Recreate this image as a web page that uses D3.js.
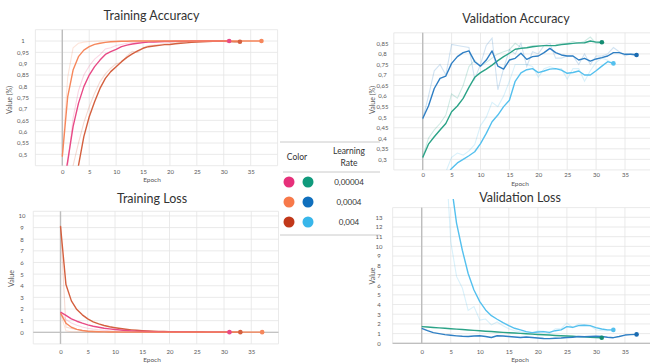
<!DOCTYPE html>
<html>
<head>
<meta charset="utf-8">
<script src="https://cdn.jsdelivr.net/npm/d3@7"></script>
<style>
html,body{margin:0;padding:0;background:#fff;}
svg{display:block;font-family:Lato,"Open Sans",sans-serif;}
</style>
</head>
<body>
<svg id="chart" width="650" height="363"></svg>
<script>
// ---- data (index = epoch) ----
const epochTicks=[0,5,10,15,20,25,30,35];
const trainAccTicks=[0.5,0.55,0.6,0.65,0.7,0.75,0.8,0.85,0.9,0.95,1];
const valAccTicks=[0.3,0.35,0.4,0.45,0.5,0.55,0.6,0.65,0.7,0.75,0.8,0.85];
const trainLossTicks=[0,1,2,3,4,5,6,7,8,9,10];
const valLossTicks=[0,1,2,3,4,5,6,7,8,9,10,11,12,13];

const rates=["0,00004","0,0004","0,004"];

// training accuracy (smoothed + raw)
const accPink=[0.33,0.47,0.622,0.725,0.799,0.85,0.887,0.916,0.941,0.953,0.963,0.975,0.982,0.987,0.99,0.993,0.995,0.996,0.997,0.998,0.998,0.999,0.999,0.999,1,1,1,1,1,1,1,1];
const accOrange=[0.49,0.754,0.872,0.931,0.96,0.975,0.985,0.99,0.994,0.997,0.998,0.999,0.999,1,1,1,1,1,1,1,1,1,1,1,1,1,1,1,1,1,1,1,1,1,1,1,1,1];
const accRed=[0.2,0.3,0.38,0.45,0.578,0.666,0.732,0.791,0.835,0.865,0.887,0.909,0.928,0.943,0.957,0.968,0.975,0.978,0.981,0.984,0.985,0.988,0.99,0.992,0.994,0.996,0.997,0.998,0.999,0.999,0.999,0.998,0.997,0.997];
const rawAccPink=[0.3,0.45,0.66,0.78,0.85,0.89,0.92,0.94,0.965,0.97,0.98,0.985,0.99,0.993,0.995,0.997,0.998,0.999,1,1,1,1,1,1,1,1,1,1,1,1,1,1];
const rawAccOrange=[0.49,0.84,0.97,0.99,0.995,0.998,0.999,1,1,1,1,1,1,1,1,1,1,1,1,1,1,1,1,1,1,1,1,1,1,1,1,1,1,1,1,1,1,1];
const rawAccRed=[0.25,0.35,0.45,0.55,0.64,0.71,0.77,0.82,0.855,0.88,0.9,0.905,0.935,0.955,0.95,0.97,0.98,0.982,0.985,0.988,0.99,0.992,0.994,0.996,0.997,0.998,0.999,1,1,1,0.999,0.998,0.997,0.997];

// validation accuracy
const valTeal=[0.309,0.372,0.407,0.439,0.47,0.526,0.553,0.589,0.641,0.689,0.711,0.728,0.747,0.768,0.787,0.803,0.822,0.826,0.829,0.834,0.837,0.839,0.839,0.84,0.844,0.847,0.85,0.852,0.853,0.861,0.856,0.855];
const valBlue=[0.494,0.553,0.636,0.684,0.695,0.755,0.787,0.806,0.814,0.763,0.742,0.771,0.814,0.742,0.728,0.771,0.779,0.803,0.774,0.787,0.79,0.806,0.826,0.806,0.795,0.79,0.79,0.771,0.779,0.766,0.776,0.782,0.79,0.806,0.806,0.798,0.798,0.795];
const valLight=[0.1,0.13,0.16,0.19,0.22,0.257,0.283,0.3,0.317,0.336,0.375,0.423,0.478,0.51,0.55,0.58,0.67,0.71,0.725,0.73,0.711,0.719,0.728,0.73,0.723,0.708,0.712,0.719,0.7,0.7,0.72,0.742,0.763,0.755];
const rawValTeal=[0.31,0.4,0.44,0.47,0.51,0.61,0.59,0.65,0.74,0.77,0.74,0.76,0.78,0.8,0.81,0.82,0.85,0.83,0.83,0.84,0.84,0.84,0.84,0.84,0.85,0.85,0.86,0.85,0.86,0.88,0.85,0.85];
const rawValBlue=[0.49,0.6,0.72,0.75,0.7,0.845,0.84,0.835,0.83,0.68,0.75,0.84,0.875,0.63,0.73,0.82,0.8,0.85,0.74,0.81,0.8,0.84,0.85,0.78,0.78,0.79,0.79,0.75,0.8,0.75,0.79,0.79,0.8,0.83,0.81,0.79,0.8,0.8];
const rawValLight=[0.12,0.15,0.18,0.21,0.24,0.31,0.33,0.32,0.34,0.37,0.46,0.5,0.57,0.55,0.6,0.67,0.75,0.75,0.75,0.74,0.69,0.73,0.74,0.73,0.73,0.68,0.73,0.73,0.67,0.72,0.76,0.78,0.77,0.75];

// training loss
const lossPink=[1.73,1.45,1.15,0.95,0.78,0.64,0.52,0.43,0.35,0.29,0.24,0.19,0.15,0.12,0.1,0.08,0.06,0.05,0.04,0.03,0.03,0.02,0.02,0.02,0.01,0.01,0.01,0.01,0.01,0.01,0.01,0.01];
const lossOrange=[1.64,0.78,0.43,0.25,0.15,0.09,0.06,0.04,0.03,0.02,0.02,0.01,0.01,0.01,0.01,0.01,0.01,0.01,0.01,0.01,0.01,0.01,0.01,0.01,0.01,0.01,0.01,0.01,0.01,0.01,0.01,0.01,0.01,0.01,0.01,0.01,0.01,0.01];
const lossRed=[9.13,4.1,2.7,1.95,1.5,1.15,0.9,0.72,0.58,0.47,0.39,0.32,0.26,0.21,0.17,0.14,0.11,0.09,0.07,0.06,0.05,0.04,0.03,0.03,0.02,0.02,0.02,0.01,0.01,0.01,0.01,0.01,0.01,0.01];
const rawLossPink=[1.7,1.1,0.8,0.6,0.45,0.35,0.27,0.21,0.16,0.12,0.09,0.07,0.05,0.04,0.03,0.02,0.02,0.01,0.01,0.01,0.01,0.01,0.01,0.01,0.01,0.01,0.01,0.01,0.01,0.01,0.01,0.01];
const rawLossOrange=[1.6,0.12,0.05,0.03,0.02,0.01,0.01,0.01,0.01,0.01,0.01,0.01,0.01,0.01,0.01,0.01,0.01,0.01,0.01,0.01,0.01,0.01,0.01,0.01,0.01,0.01,0.01,0.01,0.01,0.01,0.01,0.01,0.01,0.01,0.01,0.01,0.01,0.01];
const rawLossRed=[9.2,0.45,0.32,0.24,0.18,0.14,0.1,0.08,0.06,0.05,0.04,0.03,0.03,0.02,0.02,0.01,0.01,0.01,0.01,0.01,0.01,0.01,0.01,0.01,0.01,0.01,0.01,0.01,0.01,0.01,0.01,0.01,0.01,0.01];

// validation loss
const vlossTeal=[1.72,1.68,1.63,1.59,1.55,1.5,1.46,1.42,1.37,1.33,1.29,1.25,1.21,1.17,1.13,1.09,1.06,1.02,0.98,0.95,0.91,0.88,0.85,0.81,0.78,0.75,0.72,0.69,0.66,0.63,0.6,0.57];
const vlossBlue=[1.55,1.3,1.1,1.0,0.9,0.83,0.77,0.72,0.7,0.75,0.78,0.7,0.6,0.78,0.75,0.7,0.65,0.6,0.65,0.6,0.55,0.5,0.48,0.52,0.55,0.6,0.62,0.7,0.68,0.7,0.72,0.7,0.62,0.58,0.7,0.85,0.9,0.92];
const vlossLight=[45,38,31,25,20,16.8,12.4,9.6,7.2,5.5,4.3,3.44,2.85,2.48,2.13,1.82,1.55,1.38,1.2,1.1,1.17,1.2,1.13,1.3,1.38,1.72,1.65,1.82,1.86,1.82,1.62,1.48,1.38,1.38];
const rawVlossLight=[60,50,40,30,21,10.5,6.9,5.7,3.4,3.8,2.4,2.5,1.9,2.2,1.8,1.5,1.3,1.2,1.1,1.0,1.3,1.25,1.0,1.5,1.5,2.1,1.6,2.0,1.9,1.8,1.4,1.3,1.3,1.38];

// colours
const cPink="#e84a86", cOrange="#f6875c", cRed="#d4603f";
const cTeal="#2ba387", cBlue="#2f7fc4", cLight="#54c0ee";
const legendLeft=["#e6307a","#f7794a","#c1381a"];
const legendRight=["#109a7c","#106fbd","#38b6ea"];

const svg=d3.select("#chart");
const fmt=v=>String(+v.toFixed(2)).replace(".",",");
const line=(x,y)=>d3.line().x((d,i)=>x(i)).y(d=>y(d));

function panel(p){
  const x=d3.scaleLinear().domain([-5,40]).range([p.x0,p.x1]);
  const y=d3.scaleLinear().domain(p.yDom).range([p.y1,p.y0]);
  const g=svg.append("g");
  const clipTop=p.clipTop==null?p.y0:p.clipTop;
  g.append("clipPath").attr("id","clip-"+p.id).append("rect")
    .attr("x",p.x0).attr("y",clipTop).attr("width",p.x1-p.x0).attr("height",p.y1-clipTop);

  // grid
  g.append("g").selectAll("line").data(d3.range(-5,41,5)).join("line")
    .attr("x1",d=>x(d)).attr("x2",d=>x(d)).attr("y1",p.y0).attr("y2",p.y1)
    .attr("stroke","#e4e4e4").attr("stroke-width",0.8);
  g.append("g").selectAll("line").data([p.yDom[0],...p.ticks,p.yDom[1]]).join("line")
    .attr("x1",p.x0).attr("x2",p.x1).attr("y1",d=>y(d)).attr("y2",d=>y(d))
    .attr("stroke","#e4e4e4").attr("stroke-width",0.8);

  // zero axes
  if(p.zeroLine) g.append("line").attr("x1",p.x0).attr("x2",p.x1).attr("y1",y(0)).attr("y2",y(0))
    .attr("stroke","#b5b5b5").attr("stroke-width",1);
  g.append("line").attr("x1",x(0)).attr("x2",x(0)).attr("y1",p.y0).attr("y2",p.y1)
    .attr("stroke","#bdbdbd").attr("stroke-width",1.4);

  // axes labels
  const xa=g.append("g").attr("transform","translate(0,"+p.xAxisY+")")
    .call(d3.axisBottom(x).tickValues(epochTicks).tickSize(0).tickPadding(0));
  xa.select(".domain").remove();
  xa.selectAll("text").attr("font-size",6).attr("fill","#595959").attr("font-family","Lato,sans-serif");

  const ya=g.append("g").attr("transform","translate("+p.yLabelX+",0)")
    .call(d3.axisLeft(y).tickValues(p.ticks).tickFormat(fmt).tickSize(0).tickPadding(0));
  ya.select(".domain").remove();
  ya.selectAll("text").attr("x",0).attr("text-anchor","middle").attr("font-size",6)
    .attr("fill","#595959").attr("font-family","Lato,sans-serif");

  // series
  const lines=g.append("g").attr("clip-path","url(#clip-"+p.id+")");
  p.series.forEach(s=>{
    if(s.raw) lines.append("path").datum(s.raw).attr("fill","none").attr("stroke",s.color)
      .attr("stroke-opacity",0.22).attr("stroke-width",1.1).attr("d",line(x,y));
  });
  p.series.forEach(s=>{
    lines.append("path").datum(s.vals).attr("fill","none").attr("stroke",s.color)
      .attr("stroke-width",1.4).attr("stroke-linejoin","round").attr("d",line(x,y));
    const last=s.vals.length-1;
    g.append("circle").attr("cx",x(last)).attr("cy",y(s.vals[last])).attr("r",2.3).attr("fill",s.mark||s.color);
  });

  // titles
  g.append("text").attr("x",p.titleX).attr("y",p.titleY).attr("text-anchor","middle")
    .attr("font-size",12.5).attr("fill","#333").text(p.title);
  g.append("text").attr("x",p.epochX).attr("y",p.epochY).attr("text-anchor","middle")
    .attr("font-size",6.5).attr("fill","#595959").text("Epoch");
  g.append("text").attr("transform","translate("+p.valX+","+p.valY+") rotate(-90)")
    .attr("text-anchor","middle").attr("font-size",7).attr("fill","#595959").text(p.valLabel);
}

panel({id:"ta",title:"Training Accuracy",titleX:151.5,titleY:20,
  x0:35.4,x1:277.6,y0:29.7,y1:165.7,yDom:[0.45,1.05],ticks:trainAccTicks,
  xAxisY:169.5,yLabelX:23,epochX:152,epochY:182,valX:12,valY:100,valLabel:"Value (%)",
  series:[
    {vals:accRed,raw:rawAccRed,color:cRed},
    {vals:accPink,raw:rawAccPink,color:cPink},
    {vals:accOrange,raw:rawAccOrange,color:cOrange}
  ]});

panel({id:"va",title:"Validation Accuracy",titleX:516,titleY:22.5,
  x0:393.8,x1:653.9,y0:32.8,y1:169.9,yDom:[0.25,0.9],ticks:valAccTicks,
  xAxisY:172.5,yLabelX:382.5,epochX:520,epochY:186,valX:375,valY:100,valLabel:"Value (%)",
  series:[
    {vals:valLight,raw:rawValLight,color:cLight},
    {vals:valTeal,raw:rawValTeal,color:cTeal,mark:"#138c72"},
    {vals:valBlue,raw:rawValBlue,color:cBlue,mark:"#1a6bb0"}
  ]});

panel({id:"tl",title:"Training Loss",titleX:152,titleY:203,
  x0:33.25,x1:278.5,y0:211.3,y1:343.9,yDom:[-1,10.4],ticks:trainLossTicks,zeroLine:true,
  xAxisY:349.5,yLabelX:22,epochX:152,epochY:362,valX:14,valY:278.5,valLabel:"Value",
  series:[
    {vals:lossRed,raw:rawLossRed,color:cRed},
    {vals:lossPink,raw:rawLossPink,color:cPink},
    {vals:lossOrange,raw:rawLossOrange,color:cOrange}
  ]});

panel({id:"vl",title:"Validation Loss",titleX:520,titleY:202,clipTop:199,
  x0:392.65,x1:654,y0:207.6,y1:343.3,yDom:[0,14],ticks:valLossTicks,zeroLine:true,
  xAxisY:349.5,yLabelX:379,epochX:520,epochY:362,valX:375,valY:276,valLabel:"Value",
  series:[
    {vals:vlossLight,raw:rawVlossLight,color:cLight},
    {vals:vlossTeal,color:cTeal,mark:"#138c72"},
    {vals:vlossBlue,color:cBlue,mark:"#1a6bb0"}
  ]});

// legend table
const lg=svg.append("g").attr("font-family","Lato,sans-serif").attr("fill","#333");
[[142,280],[172,283],[235,280]].forEach(([yy,xs])=>{
  lg.append("line").attr("x1",xs).attr("x2",380).attr("y1",yy).attr("y2",yy)
    .attr("stroke","#c4c4c4").attr("stroke-width",0.9);
});
lg.append("text").attr("x",297).attr("y",160).attr("text-anchor","middle").attr("font-size",8.5).text("Color");
lg.append("text").attr("x",349).attr("y",154).attr("text-anchor","middle").attr("font-size",8.5).text("Learning");
lg.append("text").attr("x",349).attr("y",166).attr("text-anchor","middle").attr("font-size",8.5).text("Rate");
const rowY=d3.scalePoint().domain(rates).range([182,222]);
lg.selectAll("circle.l").data(rates).join("circle").attr("cx",289).attr("cy",d=>rowY(d))
  .attr("r",5.5).attr("fill",(d,i)=>legendLeft[i]);
lg.selectAll("circle.r").data(rates).join("circle").attr("cx",308).attr("cy",d=>rowY(d))
  .attr("r",5.5).attr("fill",(d,i)=>legendRight[i]);
lg.selectAll("text.rate").data(rates).join("text").attr("class","rate")
  .attr("x",349).attr("y",d=>rowY(d)+3).attr("text-anchor","middle").attr("font-size",8).text(d=>d);
</script>
</body>
</html>
